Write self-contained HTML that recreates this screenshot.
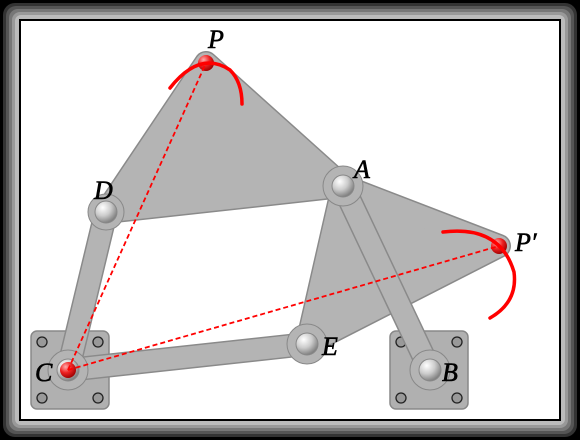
<!DOCTYPE html>
<html><head><meta charset="utf-8"><style>
html,body{margin:0;padding:0;background:#000;}
svg{display:block;}
text{font-family:"Liberation Serif",serif;font-style:italic;font-size:26px;fill:#000;stroke:#000;stroke-width:0.6;}
</style></head><body>
<svg width="580" height="440" viewBox="0 0 580 440">
<defs>
<radialGradient id="pin" cx="0.35" cy="0.3" r="0.75">
<stop offset="0" stop-color="#fff"/><stop offset="0.5" stop-color="#ccc"/><stop offset="1" stop-color="#777"/></radialGradient>
<radialGradient id="rpin" cx="0.35" cy="0.3" r="0.75">
<stop offset="0" stop-color="#faa"/><stop offset="0.5" stop-color="#e22"/><stop offset="1" stop-color="#900"/></radialGradient>
</defs>
<g>
<rect x="0" y="0" width="580" height="440" rx="14" fill="#000"/>
<rect x="3" y="3" width="574" height="434" rx="12" fill="#333"/>
<rect x="6" y="6" width="568" height="428" rx="10" fill="#555"/>
<rect x="9" y="9" width="562" height="422" rx="9" fill="#777"/>
<rect x="12" y="12" width="556" height="416" rx="8" fill="#999"/>
<rect x="15" y="15" width="550" height="410" rx="6" fill="#bbb"/>
<rect x="19" y="19" width="542" height="402" fill="#000"/>
<rect x="21" y="21" width="538" height="398" fill="#fff"/>
</g>
<g>
<rect x="31" y="331" width="78" height="78" rx="6" fill="#b0b0b0" stroke="#888" stroke-width="1.5"/>
<g fill="#999" stroke="#222" stroke-width="1.3">
<circle cx="42" cy="342" r="5"/><circle cx="98" cy="342" r="5"/><circle cx="42" cy="398" r="5"/><circle cx="98" cy="398" r="5"/></g>
</g>
<g>
<rect x="390" y="331" width="78" height="78" rx="6" fill="#b0b0b0" stroke="#888" stroke-width="1.5"/>
<g fill="#999" stroke="#222" stroke-width="1.3">
<circle cx="401" cy="342" r="5"/><circle cx="457" cy="342" r="5"/><circle cx="401" cy="398" r="5"/><circle cx="457" cy="398" r="5"/></g>
</g>
<g stroke-linecap="round" stroke-linejoin="round" fill="#b4b4b4">
<path d="M68 370 L307 344" stroke="#8a8a8a" stroke-width="24"/>
<path d="M68 370 L307 344" stroke="#b4b4b4" stroke-width="21"/>
<path d="M106 212 L68 370" stroke="#8a8a8a" stroke-width="24"/>
<path d="M106 212 L68 370" stroke="#b4b4b4" stroke-width="21"/>
<polygon points="206,63 106,212 343,186" stroke="#8a8a8a" stroke-width="24"/>
<polygon points="206,63 106,212 343,186" stroke="#b4b4b4" stroke-width="21"/>
<polygon points="343,186 499,246 307,344" stroke="#8a8a8a" stroke-width="24"/>
<polygon points="343,186 499,246 307,344" stroke="#b4b4b4" stroke-width="21"/>
<path d="M343 186 L430 370" stroke="#8a8a8a" stroke-width="24"/>
<path d="M343 186 L430 370" stroke="#b4b4b4" stroke-width="21"/>
</g>
<g stroke="#888" stroke-width="1">
<circle cx="68" cy="370" r="20" fill="#b4b4b4"/><circle cx="430" cy="370" r="20" fill="#b4b4b4"/>
<circle cx="307" cy="344" r="20" fill="#b4b4b4"/><circle cx="343" cy="186" r="20" fill="#b4b4b4"/>
<circle cx="106" cy="212" r="18" fill="#b4b4b4"/>
<circle cx="68" cy="370" r="11" fill="url(#pin)"/>
<circle cx="430" cy="370" r="11" fill="url(#pin)"/>
<circle cx="307" cy="344" r="11" fill="url(#pin)"/>
<circle cx="343" cy="186" r="11" fill="url(#pin)"/>
<circle cx="106" cy="212" r="11" fill="url(#pin)"/>
<circle cx="68" cy="370" r="8" fill="url(#rpin)" stroke="none"/>
<circle cx="206" cy="63" r="8" fill="url(#rpin)" stroke="none"/>
<circle cx="499" cy="246" r="8" fill="url(#rpin)" stroke="none"/>
</g>
<g stroke="#f00" stroke-width="1.8" stroke-dasharray="5,3" fill="none">
<path d="M68 370 L206 63"/><path d="M68 370 L499 246"/>
</g>
<g stroke="#f00" stroke-width="3.5" fill="none" stroke-linecap="round">
<path d="M170 88 Q200 50 230 70 Q242 82 242 104"/>
<path d="M443 232 Q500 225 514 272 Q518 302 490 318"/>
</g>
<g>
<text x="208" y="48">P</text>
<text x="94" y="199">D</text>
<text x="354" y="178">A</text>
<text x="515" y="251">P′</text>
<text x="322" y="355">E</text>
<text x="442" y="381">B</text>
<text x="35" y="381">C</text>
</g>
</svg>
</body></html>
